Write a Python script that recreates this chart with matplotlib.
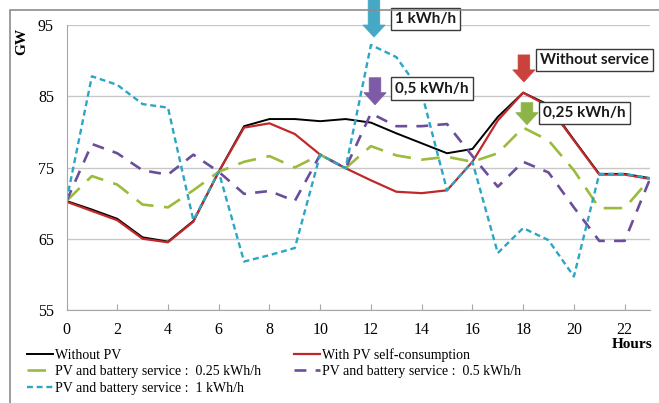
import matplotlib.pyplot as plt
from matplotlib.patches import Rectangle, FancyArrow

# hourly load, GW
hours = list(range(24))
without_pv = [70.3, 69.1, 67.8, 65.2, 64.6, 67.5, 74.4, 80.8, 81.8, 81.8, 81.5, 81.8,
              81.3, 79.8, 78.4, 77.0, 77.6, 82.1, 85.5, 83.8, 78.9, 74.1, 74.1, 73.5]
with_pv = [70.2, 68.9, 67.6, 65.0, 64.5, 67.4, 74.4, 80.6, 81.2, 79.7, 76.8, 74.9,
           73.2, 71.6, 71.4, 71.8, 75.8, 81.6, 85.5, 83.6, 78.8, 74.0, 74.0, 73.4]
service_025 = [70.3, 73.8, 72.6, 69.8, 69.4, 71.8, 74.4, 75.8, 76.6, 75.0, 76.8, 74.9,
               78.0, 76.7, 76.1, 76.5, 75.8, 77.0, 80.6, 78.8, 74.6, 69.3, 69.3, 73.4]
service_05 = [70.3, 78.3, 77.0, 74.6, 74.0, 76.8, 74.4, 71.3, 71.7, 70.3, 76.8, 74.9,
              82.6, 80.8, 80.8, 81.1, 76.6, 72.3, 75.8, 74.3, 69.4, 64.7, 64.7, 73.4]
service_1 = [70.3, 87.8, 86.6, 83.9, 83.4, 67.6, 74.4, 61.8, 62.7, 63.7, 76.8, 74.9,
             92.2, 90.5, 85.5, 71.8, 75.8, 63.0, 66.5, 64.8, 59.7, 74.1, 74.1, 73.5]

labels = ["Without PV", "With PV self-consumption",
          "PV and battery service :  0.25 kWh/h",
          "PV and battery service :  0.5 kWh/h",
          "PV and battery service :  1 kWh/h"]

# (text, arrow x, arrow top, arrow tip, box x, box y, colour)
callouts = [
    ("1 kWh/h", 12.12, 98.6, 93.3, 12.95, 95.85, "#45A8C4"),
    ("0,5 kWh/h", 12.16, 87.6, 83.8, 12.95, 86.1, "#7D5BA6"),
    ("Without service", 18.03, 90.8, 87.0, 18.66, 90.1, "#C9433C"),
    ("0,25 kWh/h", 18.15, 84.1, 81.0, 18.78, 82.65, "#8CB446"),
]

serif = "Liberation Serif"
grey = "#A6A6A6"

fig = plt.figure(figsize=(6.59, 4.03), dpi=100)
ax = fig.add_axes([66.5 / 659, 1 - 310 / 403, (650 - 66.5) / 659, 285 / 403])

# chart area border (runs off the right and bottom edge)
fig.patches.append(Rectangle((10 / 659, -0.1), 1.2, 1 - 10 / 403 + 0.1, transform=fig.transFigure,
                             fill=False, ec="#8C8C8C", lw=1.2))

l_black, = ax.plot(hours, without_pv, color="black", lw=1.4)
l_red, = ax.plot(hours, with_pv, color="#C0282A", lw=1.6)
l_green, = ax.plot(hours, service_025, color="#9BBB3C", lw=1.9, dashes=(7, 4))
l_purple, = ax.plot(hours, service_05, color="#6B4E9B", lw=1.9, dashes=(4.5, 3.5))
l_cyan, = ax.plot(hours, service_1, color="#2BA6C4", lw=1.7, dashes=(2.5, 1.6))

ax.set_xlim(0, 23)
ax.set_ylim(55, 95)
ax.set_xticks(range(0, 24, 2))
ax.set_yticks([55, 65, 75, 85, 95])
ax.grid(axis="y", color="#C8C8C8", lw=1)
ax.set_axisbelow(True)
for s in ["top", "right"]:
    ax.spines[s].set_visible(False)
for s in ["left", "bottom"]:
    ax.spines[s].set_color(grey)
ax.tick_params(axis="x", direction="in", length=4, color=grey, pad=9)
ax.tick_params(axis="y", length=0, pad=9)
for t in ax.get_xticklabels() + ax.get_yticklabels():
    t.set_fontfamily(serif)
    t.set_fontsize(11.5)

fig.text(22 / 659, 1 - 41 / 403, "GW", rotation=90, ha="center", va="center",
         family=serif, fontweight="bold", fontsize=11)
fig.text(653 / 659, 1 - 345 / 403, "Hours", ha="right", va="center",
         family=serif, fontweight="bold", fontsize=11)

for text, ax_x, top, tip, bx, by, col in callouts:
    ax.add_patch(FancyArrow(ax_x, top, 0, tip - top, width=0.46, head_width=0.88,
                            head_length=1.7, length_includes_head=True,
                            fc=col, ec=col, lw=0.5, clip_on=False, zorder=5))
    ax.text(bx, by, text, ha="left", va="center", family="Lato", fontweight="bold",
            fontsize=11, color="#1A1A1A", zorder=6, clip_on=False,
            bbox=dict(boxstyle="square,pad=0.28", fc="white", ec="#3A3A3A", lw=1))

fig.legend([l_black, l_green, l_cyan, l_red, l_purple],
           [labels[0], labels[2], labels[4], labels[1], labels[3]],
           ncol=2, loc="upper left", bbox_to_anchor=(27 / 659, 1 - 348 / 403),
           frameon=False, prop={"family": serif, "size": 10},
           handlelength=1.9, handletextpad=0.15, labelspacing=0.25,
           columnspacing=2.3, borderpad=0, borderaxespad=0)

fig.savefig("out.png", dpi=100)
